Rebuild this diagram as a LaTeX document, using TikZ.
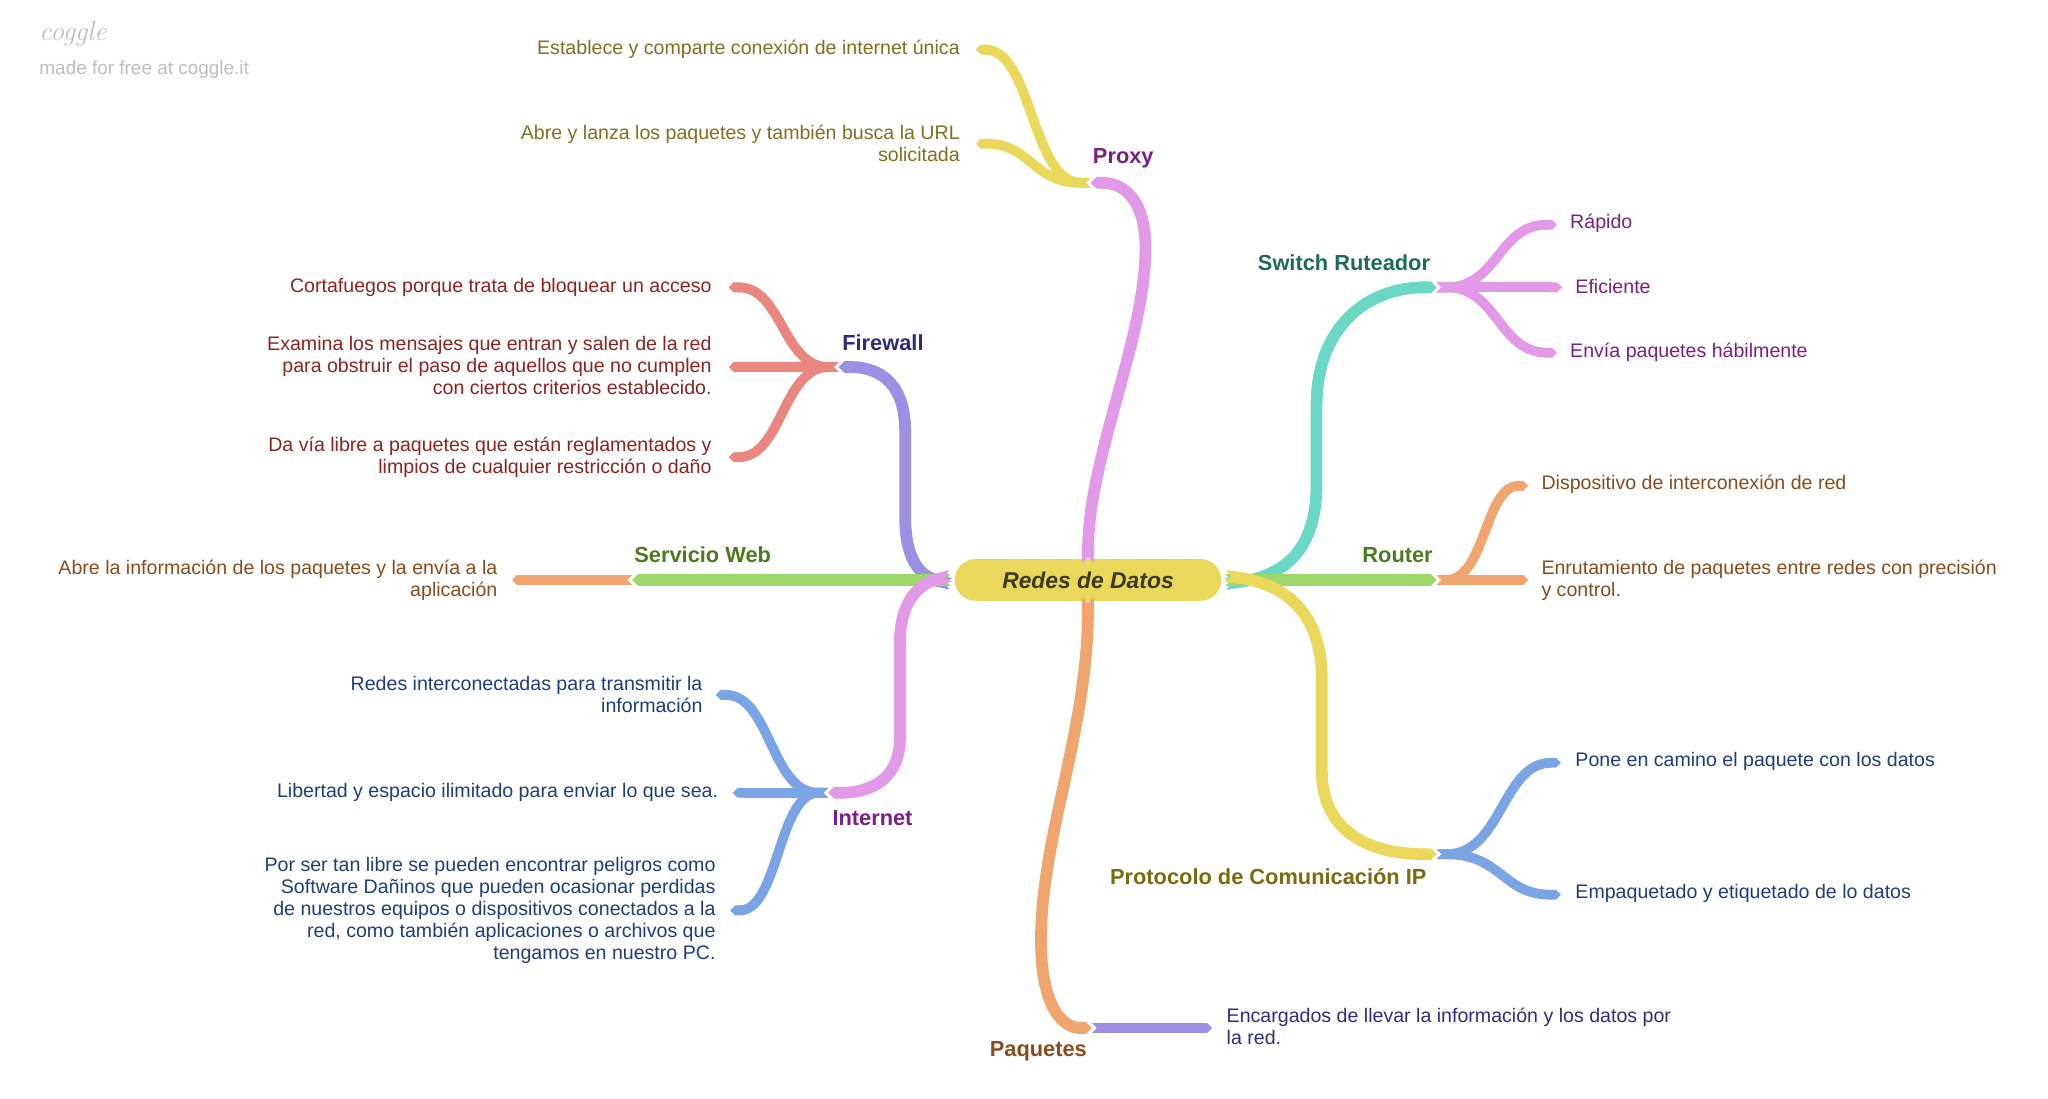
\documentclass[tikz,border=0pt]{standalone}
\usepackage{fontspec}
\newfontfamily\arial{Liberation Sans}
\usetikzlibrary{arrows.meta}
\definecolor{cYel}{HTML}{E9D85C}
\definecolor{cPink}{HTML}{E29AE8}
\definecolor{cLav}{HTML}{9B90E3}
\definecolor{cSal}{HTML}{E8867F}
\definecolor{cGreen}{HTML}{9DD66B}
\definecolor{cOrange}{HTML}{F0A56F}
\definecolor{cBlue}{HTML}{7BA4E4}
\definecolor{cTeal}{HTML}{6AD8C5}
\definecolor{tOlive}{HTML}{7D701E}
\definecolor{tPurple}{HTML}{7A1F84}
\definecolor{tNavy}{HTML}{2B2A7F}
\definecolor{tRed}{HTML}{8B2323}
\definecolor{tDGreen}{HTML}{4D7A1F}
\definecolor{tBrown}{HTML}{8A4B1A}
\definecolor{tBlue}{HTML}{1F3C7D}
\definecolor{tTeal}{HTML}{1E6B5B}
\definecolor{tOliveLab}{HTML}{7A6A10}
\definecolor{tIndigo}{HTML}{2E2B85}
\definecolor{tDark}{HTML}{3A3A1E}
\definecolor{wm}{HTML}{BDBDBD}
\begin{document}
\begin{tikzpicture}[x=1pt,y=-1pt,
  mainbr/.style={line width=9pt, arrows={Triangle Cap[reversed]-Triangle Cap}},
  leafbr/.style={line width=7.5pt, arrows={Triangle Cap[reversed]-Triangle Cap}},
  leafL/.style={anchor=east, align=right, inner sep=0pt, font=\arial\fontsize{15}{17}\selectfont},
  leafR/.style={anchor=west, align=left, inner sep=0pt, font=\arial\fontsize{15}{17}\selectfont},
  lab/.style={inner sep=0pt, font=\arial\bfseries\fontsize{16.7}{19}\selectfont}]
\useasboundingbox (0,0) rectangle (1568,841);
% watermark
\node[anchor=west, inner sep=0pt, text=wm, font=\itshape\fontsize{21}{22}\selectfont] (wm1) at (30,26) {coggle};
\node[anchor=west, inner sep=0pt, text=wm, font=\arial\fontsize{14.5}{16}\selectfont] (wm2) at (30,53) {made for free at coggle.it};
% root
\node[fill=cYel, rounded corners=16pt, minimum width=204pt, minimum height=32pt, inner sep=0pt,
  text=tDark, font=\arial\bfseries\itshape\fontsize{17.5}{20}\selectfont] (root) at (833,444) {Redes de Datos};
% junction coordinates
\coordinate (jProxy) at (835,140);
\coordinate (jFire) at (642,281);
\coordinate (jServ) at (484,444);
\coordinate (jInt) at (634,607);
\coordinate (jSw) at (1100,220);
\coordinate (jRout) at (1100,444);
\coordinate (jProt) at (1100,654);
\coordinate (jPaq) at (836,787);
% main branches
\draw[mainbr, cPink] ([yshift=-3pt]root.north) .. controls (833,350) and (877,260) .. (877,190) .. controls (877,155) and (862,140) .. (jProxy);
\draw[mainbr, cLav] ([xshift=-3pt,yshift=-3pt]root.west) .. controls (702,441) and (693,425) .. (693,395) -- (693,330) .. controls (693,296) and (676,281) .. (jFire);
\draw[mainbr, cGreen] ([xshift=-3pt]root.west) -- (jServ);
\draw[mainbr, cPink] ([xshift=-3pt,yshift=3pt]root.west) .. controls (702,447) and (689,462) .. (689,492) -- (689,565) .. controls (689,594) and (670,607) .. (jInt);
\draw[mainbr, cTeal] ([xshift=3pt,yshift=-3pt]root.east) .. controls (985,441) and (1008,420) .. (1008,370) -- (1008,310) .. controls (1008,252) and (1045,220) .. (jSw);
\draw[mainbr, cGreen] ([xshift=3pt]root.east) -- (jRout);
\draw[mainbr, cYel] ([xshift=3pt,yshift=3pt]root.east) .. controls (985,447) and (1012,470) .. (1012,520) -- (1012,590) .. controls (1012,638) and (1050,654) .. (jProt);
\draw[mainbr, cOrange] ([yshift=3pt]root.south) .. controls (833,560) and (797,640) .. (797,720) .. controls (797,768) and (812,787) .. (jPaq);
% labels
\node[lab, text=tPurple] (lProxy) at (860,121) {Proxy};
\node[lab, text=tNavy] (lFire) at (676,262) {Firewall};
\node[lab, text=tDGreen] (lServ) at (538,425) {Servicio Web};
\node[lab, text=tPurple] (lInt) at (668,626) {Internet};
\node[lab, text=tTeal] (lSw) at (1029,201) {Switch Ruteador};
\node[lab, text=tDGreen] (lRout) at (1070,425) {Router};
\node[lab, text=tOliveLab] (lProt) at (971,671) {Protocolo de Comunicación IP};
\node[lab, text=tBrown] (lPaq) at (795,805) {Paquetes};
% Proxy leaves
\node[leafL, text=tOlive] (p1) at (735,38) {Establece y comparte conexión de internet única};
\node[leafL, text=tOlive] (p2) at (735,110) {Abre y lanza los paquetes y también busca la URL\\solicitada};
\coordinate (ep1) at (747,38);
\coordinate (ep2) at (747,110);
\draw[leafbr, cYel] (jProxy) .. controls (790,140) and (790,38) .. (ep1);
\draw[leafbr, cYel] (jProxy) .. controls (790,140) and (790,110) .. (ep2);
% Firewall leaves
\node[leafL, text=tRed] (f1) at (545,220) {Cortafuegos porque trata de bloquear un acceso};
\node[leafL, text=tRed] (f2) at (545,280) {Examina los mensajes que entran y salen de la red\\para obstruir el paso de aquellos que no cumplen\\con ciertos criterios establecido.};
\node[leafL, text=tRed] (f3) at (545,350) {Da vía libre a paquetes que están reglamentados y\\limpios de cualquier restricción o daño};
\coordinate (ef1) at (558,220);
\coordinate (ef2) at (558,281);
\coordinate (ef3) at (558,350);
\draw[leafbr, cSal] (jFire) .. controls (599,281) and (599,220) .. (ef1);
\draw[leafbr, cSal] (jFire) -- (ef2);
\draw[leafbr, cSal] (jFire) .. controls (599,281) and (599,350) .. (ef3);
% Servicio Web leaf
\node[leafL, text=tBrown] (s1) at (381,444) {Abre la información de los paquetes y la envía a la\\aplicación};
\coordinate (es1) at (392,444);
\draw[leafbr, cOrange] (jServ) -- (es1);
% Internet leaves
\node[leafL, text=tBlue] (i1) at (538,532) {Redes interconectadas para transmitir la\\información};
\node[leafL, text=tBlue] (i2) at (550,607) {Libertad y espacio ilimitado para enviar lo que sea.};
\node[leafL, text=tBlue] (i3) at (548,697) {Por ser tan libre se pueden encontrar peligros como\\Software Dañinos que pueden ocasionar perdidas\\de nuestros equipos o dispositivos conectados a la\\red, como también aplicaciones o archivos que\\tengamos en nuestro PC.};
\coordinate (ei1) at (548,532);
\coordinate (ei2) at (561,607);
\coordinate (ei3) at (559,697);
\draw[leafbr, cBlue] (jInt) .. controls (590,607) and (590,532) .. (ei1);
\draw[leafbr, cBlue] (jInt) -- (ei2);
\draw[leafbr, cBlue] (jInt) .. controls (596,607) and (596,697) .. (ei3);
% Switch leaves
\node[leafR, text=tPurple] (w1) at (1202,171) {Rápido};
\node[leafR, text=tPurple] (w2) at (1206,219) {Eficiente};
\node[leafR, text=tPurple] (w3) at (1202,270) {Envía paquetes hábilmente};
\coordinate (ew1) at (1192,172);
\coordinate (ew2) at (1196,220);
\coordinate (ew3) at (1192,270);
\draw[leafbr, cPink] (jSw) .. controls (1147,220) and (1147,172) .. (ew1);
\draw[leafbr, cPink] (jSw) -- (ew2);
\draw[leafbr, cPink] (jSw) .. controls (1147,220) and (1147,270) .. (ew3);
% Router leaves
\node[leafR, text=tBrown] (r1) at (1180,371) {Dispositivo de interconexión de red};
\node[leafR, text=tBrown] (r2) at (1180,444) {Enrutamiento de paquetes entre redes con precisión\\y control.};
\coordinate (er1) at (1170,372);
\coordinate (er2) at (1170,444);
\draw[leafbr, cOrange] (jRout) .. controls (1137,444) and (1137,372) .. (er1);
\draw[leafbr, cOrange] (jRout) -- (er2);
% Protocolo leaves
\node[leafR, text=tBlue] (q1) at (1206,583) {Pone en camino el paquete con los datos};
\node[leafR, text=tBlue] (q2) at (1206,684) {Empaquetado y etiquetado de lo datos};
\coordinate (eq1) at (1195,584);
\coordinate (eq2) at (1195,685);
\draw[leafbr, cBlue] (jProt) .. controls (1150,654) and (1150,584) .. (eq1);
\draw[leafbr, cBlue] (jProt) .. controls (1150,654) and (1150,685) .. (eq2);
% Paquetes leaf
\node[leafR, text=tIndigo] (k1) at (939,786) {Encargados de llevar la información y los datos por\\la red.};
\coordinate (ek1) at (928,787);
\draw[leafbr, cLav] (jPaq) -- (ek1);
\end{tikzpicture}
\end{document}
